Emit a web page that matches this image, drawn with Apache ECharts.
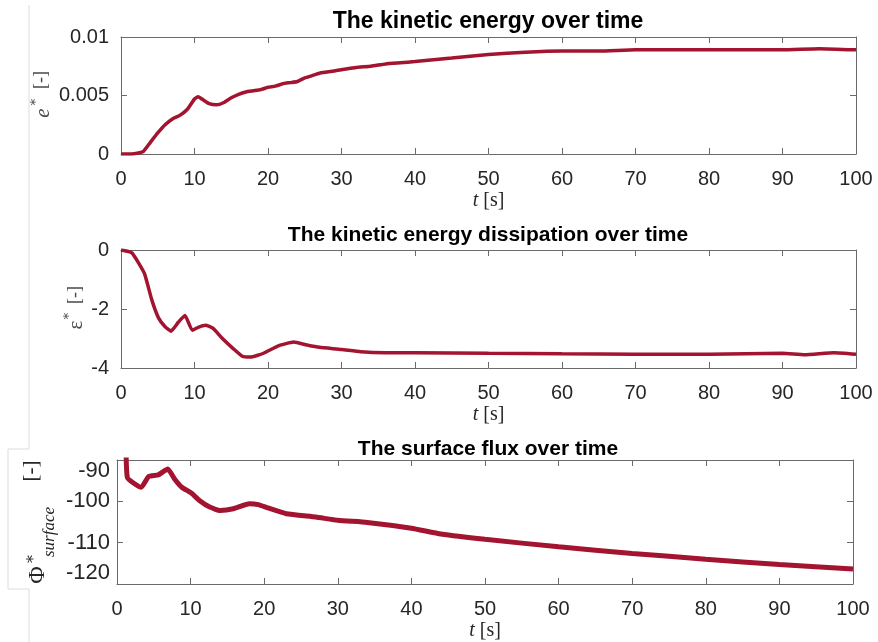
<!DOCTYPE html>
<html>
<head>
<meta charset="utf-8">
<script src="https://cdn.jsdelivr.net/npm/echarts@6/dist/echarts.min.js"></script>
<style>
  html, body { margin: 0; padding: 0; background: #ffffff; }
  #chart { width: 878px; height: 642px; }
</style>
</head>
<body>
<div id="chart"></div>
<script>
// Kinetic energy e* over time
const tEnergy = [0, 1, 2, 3, 4, 5, 6, 7, 8, 9, 10, 10.5, 11, 12, 13, 14, 15, 16, 17, 18, 19, 20, 21, 22, 23, 24, 25, 26, 27, 28, 29, 30, 32, 34, 36, 38, 40, 45, 50, 55, 60, 65, 70, 75, 80, 85, 90, 95, 100];
const energy = [0, 0, 0.00005, 0.0002, 0.001, 0.0018, 0.0025, 0.003, 0.0033, 0.0038, 0.0047, 0.0049, 0.0047, 0.0043, 0.0042, 0.0044, 0.0048, 0.0051, 0.0053, 0.0054, 0.0055, 0.0057, 0.0058, 0.006, 0.0061, 0.0062, 0.0065, 0.0067, 0.0069, 0.007, 0.0071, 0.0072, 0.0074, 0.0075, 0.0077, 0.0078, 0.0079, 0.0082, 0.0085, 0.0087, 0.0088, 0.0088, 0.0089, 0.0089, 0.0089, 0.0089, 0.0089, 0.009, 0.0089];

// Kinetic energy dissipation ε* over time
const tDissipation = [0, 1, 1.5, 2.3, 3.2, 4.2, 5.1, 6, 6.8, 7.8, 8.7, 9.7, 10.5, 11.5, 12.5, 13.8, 15.3, 16.5, 17.6, 19.4, 21.4, 23.5, 25.3, 27, 30, 32.6, 36, 40, 50, 60, 70, 80, 90, 93, 97, 100];
const dissipation = [0, -0.05, -0.1, -0.4, -0.8, -1.7, -2.3, -2.6, -2.75, -2.45, -2.22, -2.72, -2.62, -2.55, -2.65, -3.0, -3.35, -3.6, -3.63, -3.5, -3.25, -3.12, -3.22, -3.3, -3.37, -3.45, -3.48, -3.48, -3.5, -3.52, -3.53, -3.53, -3.5, -3.55, -3.48, -3.53];

// Surface flux Φ*_surface over time
const tFlux = [1.2, 1.4, 3.3, 4.3, 5.6, 6.9, 7.9, 8.8, 10.1, 11.2, 12.6, 14, 15.8, 18, 19.2, 20.5, 23, 27, 30, 34, 40, 44, 50, 60, 70, 80, 90, 100];
const flux = [-80, -94.2, -96.6, -94, -93.6, -92.2, -94.8, -96.6, -98, -99.8, -101.4, -102.2, -101.8, -100.6, -100.8, -101.6, -103, -103.8, -104.6, -105.1, -106.5, -107.9, -109.2, -111, -112.6, -114, -115.3, -116.4];

// Axis ranges and tick steps for the three panels
const timeRange = [0, 100, 10];
const energyRange = [0, 0.01, 0.005];
const dissipationRange = [-4, 0, 2];
const fluxRange = [-120, -90, 10];

const panelTitles = ['The kinetic energy over time', 'The kinetic energy dissipation over time', 'The surface flux over time'];

const lineColor = '#A2142F';
const boxColor = '#6a6a6a';
const textColor = '#262626';
const sansFont = '"Liberation Sans", Arial, Helvetica, sans-serif';
const serifFont = '"Liberation Serif", "DejaVu Serif", serif';

const grids = [
  { left: 121, top: 37, width: 735, height: 117 },
  { left: 121, top: 250, width: 735, height: 118 },
  { left: 117, top: 460, width: 736, height: 124 }
];

function pairs(xs, ys) { return xs.map((x, i) => [x, ys[i]]); }

const xAxes = [];
const yAxes = [];
grids.forEach((g, i) => {
  // bottom axis with labels and name
  xAxes.push({
    gridIndex: i, type: 'value', position: 'bottom',
    min: timeRange[0], max: timeRange[1], interval: timeRange[2],
    axisLine: { show: true, onZero: false, lineStyle: { color: boxColor, width: 1 } },
    axisTick: { show: true, inside: true, length: 6, lineStyle: { color: boxColor } },
    axisLabel: { show: true, color: textColor, fontSize: 20, fontFamily: sansFont, margin: 15 },
    splitLine: { show: false },
    name: '{i|t} [s]', nameLocation: 'middle', nameGap: 37,
    nameTextStyle: {
      color: textColor, fontSize: 20, fontFamily: serifFont,
      rich: { i: { fontStyle: 'italic', fontSize: 20, fontFamily: serifFont, color: textColor } }
    }
  });
  // top axis: ticks only
  xAxes.push({
    gridIndex: i, type: 'value', position: 'top',
    min: timeRange[0], max: timeRange[1], interval: timeRange[2],
    axisLine: { show: true, onZero: false, lineStyle: { color: boxColor, width: 1 } },
    axisTick: { show: true, inside: true, length: 6, lineStyle: { color: boxColor } },
    axisLabel: { show: false }, splitLine: { show: false }
  });
});

const yRanges = [energyRange, dissipationRange, fluxRange];
yRanges.forEach((r, i) => {
  const big = i === 2;
  yAxes.push({
    gridIndex: i, type: 'value', position: 'left',
    min: r[0], max: r[1], interval: r[2],
    axisLine: { show: true, onZero: false, lineStyle: { color: boxColor, width: 1 } },
    axisTick: { show: true, inside: true, length: 6, lineStyle: { color: boxColor } },
    axisLabel: Object.assign({
      show: true, color: textColor, fontSize: big ? 22 : 20, fontFamily: sansFont, margin: big ? 7 : 12
    }, big ? { verticalAlignMaxLabel: 'top', verticalAlignMinLabel: 'bottom' } : {}),
    splitLine: { show: false }
  });
  yAxes.push({
    gridIndex: i, type: 'value', position: 'right',
    min: r[0], max: r[1], interval: r[2],
    axisLine: { show: true, onZero: false, lineStyle: { color: boxColor, width: 1 } },
    axisTick: { show: true, inside: true, length: 6, lineStyle: { color: boxColor } },
    axisLabel: { show: false }, splitLine: { show: false }
  });
});

function lineSeries(idx, data, width) {
  return {
    type: 'line', xAxisIndex: idx * 2, yAxisIndex: idx * 2,
    data: data, showSymbol: false, smooth: 0.15, clip: true,
    lineStyle: { color: lineColor, width: width },
    itemStyle: { color: lineColor },
    animation: false
  };
}

function rotText(x, y, text, size, opts) {
  return {
    type: 'text', x: x, y: y, rotation: Math.PI / 2, silent: true,
    style: Object.assign({
      text: text, fontSize: size, fontFamily: serifFont, fill: '#4a4a4a',
      align: 'center', verticalAlign: 'middle'
    }, opts || {})
  };
}

const titleY = [22, 235, 449];
const titleSize = [23, 21, 21];
const graphics = [
  // faint frame line along the left margin
  {
    type: 'polyline', silent: true,
    shape: { points: [[29, 5], [29, 449], [8, 449], [8, 589], [29, 589], [29, 642]] },
    style: { stroke: '#dcdcdc', lineWidth: 1, fill: null }
  }
];
panelTitles.forEach((t, i) => {
  graphics.push({
    type: 'text', x: 488, y: titleY[i], silent: true,
    style: { text: t, fontSize: titleSize[i], fontWeight: 'bold', fontFamily: sansFont, fill: '#000', align: 'center', verticalAlign: 'middle' }
  });
});
// y-axis names
graphics.push(
  rotText(43, 113, 'e', 21, { fontStyle: 'italic' }),
  rotText(34, 102, '\u2217', 13),
  rotText(41, 80, '[-]', 18),
  rotText(76, 325, '\u03B5', 21),
  rotText(67, 316, '\u2217', 13),
  rotText(75, 295, '[-]', 18),
  rotText(38, 575, '\u03A6', 24, { fill: '#262626' }),
  rotText(31, 559, '\u2217', 16, { fill: '#262626' }),
  rotText(50, 532, 'surface', 17, { fontStyle: 'italic', fill: '#262626' }),
  rotText(31, 471, '[-]', 21, { fill: '#262626' })
);

const chart = echarts.init(document.getElementById('chart'), null, { renderer: 'canvas' });
chart.setOption({
  animation: false,
  backgroundColor: '#ffffff',
  grid: grids,
  xAxis: xAxes,
  yAxis: yAxes,
  series: [
    lineSeries(0, pairs(tEnergy, energy), 3.5),
    lineSeries(1, pairs(tDissipation, dissipation), 3.5),
    lineSeries(2, pairs(tFlux, flux), 5)
  ],
  graphic: graphics
});
</script>
</body>
</html>
